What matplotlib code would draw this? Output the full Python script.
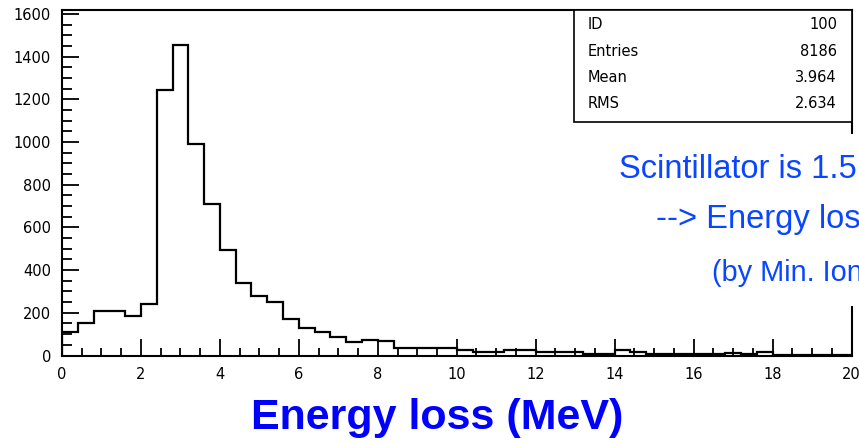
import numpy as np
import matplotlib
matplotlib.use("Agg")
import matplotlib.pyplot as plt
from matplotlib.patches import Rectangle
from matplotlib.ticker import MultipleLocator

# ---- data ----
x_min, x_max, n_bins = 0.0, 20.0, 50
counts = [111, 153, 209, 209, 185, 242, 1245, 1456, 991, 709,
          494, 338, 278, 251, 170, 128, 108, 89, 64, 72,
          70, 37, 37, 37, 37, 26, 16, 16, 25, 25,
          16, 15, 15, 6, 6, 28, 18, 6, 5, 5,
          5, 5, 14, 9, 17, 4, 4, 4, 4, 4]
stats_labels = ["ID", "Entries", "Mean", "RMS"]
stats_values = ["100", "8186", "3.964", "2.634"]
note_lines = ["Scintillator is 1.5 cm thick",
              "--> Energy loss ~ 3 MeV",
              "(by Min. Ionizing particle)"]
x_label = "Energy loss (MeV)"
x_ticks = [0, 2, 4, 6, 8, 10, 12, 14, 16, 18, 20]
y_ticks = [0, 200, 400, 600, 800, 1000, 1200, 1400, 1600]

W, H = 859, 443
fig = plt.figure(figsize=(W / 100, H / 100), dpi=100)
fig.patch.set_facecolor("white")

# axes placement in pixels
ax_l, ax_r, ax_t, ax_b = 62, 851.5, 9.5, 355.5
ax = fig.add_axes([ax_l / W, 1 - ax_b / H, (ax_r - ax_l) / W, (ax_b - ax_t) / H])

edges = np.linspace(x_min, x_max, n_bins + 1)
ax.stairs(counts, edges, color="black", linewidth=1.6, baseline=0)

ax.set_xlim(x_min, x_max)
ax.set_ylim(0, 1621)
ax.set_xticks(x_ticks)
ax.set_yticks(y_ticks)
ax.xaxis.set_minor_locator(MultipleLocator(0.5))
ax.yaxis.set_minor_locator(MultipleLocator(50))
ax.tick_params(axis="both", which="both", direction="in", top=False, right=False,
               colors="black", width=1.3)
ax.tick_params(axis="x", which="major", length=12, pad=8)
ax.tick_params(axis="x", which="minor", length=6)
ax.tick_params(axis="y", which="major", length=12, pad=8)
ax.tick_params(axis="y", which="minor", length=7)
for lab in ax.get_xticklabels() + ax.get_yticklabels():
    lab.set_fontfamily("DejaVu Sans")
    lab.set_fontsize(10.5)
for sp in ax.spines.values():
    sp.set_linewidth(1.5)
    sp.set_color("black")

# statistics box (figure pixel coordinates)
def fx(px):
    return px / W

def fy(py):
    return 1 - py / H

sb_l, sb_r, sb_t, sb_b = 574, 852, 9.5, 121.7
fig.patches.append(Rectangle((fx(sb_l), fy(sb_b)), fx(sb_r) - fx(sb_l), fy(sb_t) - fy(sb_b),
                             transform=fig.transFigure, facecolor="white",
                             edgecolor="black", linewidth=1.2, zorder=2))
row_y = [24.5, 51, 77.5, 104]
for lab, val, ry in zip(stats_labels, stats_values, row_y):
    fig.text(fx(588), fy(ry), lab, ha="left", va="center", fontsize=10.5,
             family="DejaVu Sans", color="black", zorder=3)
    fig.text(fx(837), fy(ry), val, ha="right", va="center", fontsize=10.5,
             family="DejaVu Sans", color="black", zorder=3)

# white text box covering the right edge of the frame
fig.patches.append(Rectangle((fx(600), fy(306)), fx(W + 5) - fx(600), fy(134) - fy(306),
                             transform=fig.transFigure, facecolor="white",
                             edgecolor="none", zorder=2))

note_color = "#0a46ff"
fig.text(fx(619), fy(178), note_lines[0], ha="left", va="baseline", fontsize=23.5,
         family="Liberation Sans", color=note_color, zorder=3)
fig.text(fx(656), fy(228), note_lines[1], ha="left", va="baseline", fontsize=23.5,
         family="Liberation Sans", color=note_color, zorder=3)
fig.text(fx(712), fy(281), note_lines[2], ha="left", va="baseline", fontsize=20.8,
         family="Liberation Sans", color=note_color, zorder=3)

fig.text(fx(437), fy(429), x_label, ha="center", va="baseline", fontsize=31,
         family="Liberation Sans", fontweight="bold", color="#0000ff")

fig.savefig("out.png", dpi=100)
